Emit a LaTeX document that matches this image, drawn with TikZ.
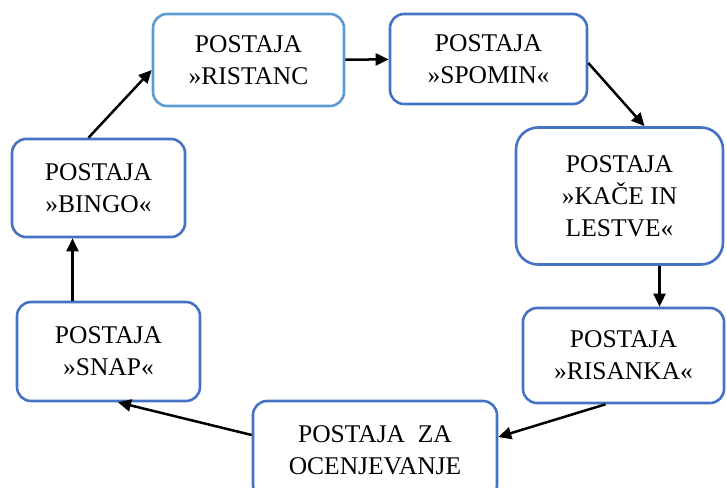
\documentclass[tikz,border=0pt]{standalone}
\usepackage{fontspec}
\setmainfont{Liberation Serif}
\usetikzlibrary{positioning,arrows.meta}

\definecolor{boxblue}{HTML}{4472C4}
\definecolor{boxlight}{HTML}{5B9BD5}

\begin{document}
\begin{tikzpicture}[
  x=0.5pt, y=-0.5pt,
  font=\fontsize{12.75}{16}\selectfont,
  station/.style={draw=boxblue, line width=1.3pt, rounded corners=7pt, fill=white,
    align=center, inner sep=0pt},
  stationlight/.style={station, draw=boxlight},
  flow/.style={-{Triangle[length=6.5pt, width=6pt]}, line width=1.25pt, black}
]
\clip (0,0) rectangle (727,487);
\useasboundingbox (0,0) rectangle (727,487);
% ---------- stations ----------
\node[stationlight, minimum width=95.5pt, minimum height=46pt] (ristanc) at (248.5,60) {POSTAJA\\»RISTANC};
\node[station, minimum width=98.5pt, minimum height=45pt] (spomin) at (488.5,59) {POSTAJA\\»SPOMIN«};
\node[station, minimum width=103.5pt, minimum height=68.5pt, rounded corners=11pt] (kace) at (619.5,196) {POSTAJA\\»KAČE IN\\LESTVE«};
\node[station, minimum width=100.5pt, minimum height=47.5pt] (risanka) at (623.5,355.5) {POSTAJA\\»RISANKA«};
\node[station, minimum width=122pt, minimum height=49pt] (ocena) at (375,450) {POSTAJA\ \ ZA\\OCENJEVANJE};
\node[station, minimum width=91.5pt, minimum height=49.5pt] (snap) at (108.5,351.5) {POSTAJA\\»SNAP«};
\node[station, minimum width=86.5pt, minimum height=49pt] (bingo) at (98.5,188) {POSTAJA\\»BINGO«};
% ---------- connectors ----------
\draw[flow] (ristanc) -- (spomin);
\draw[flow] ([yshift=-2pt]spomin.east) -- ([xshift=12.5pt]kace.north);
\draw[flow] ([xshift=20pt]kace.south) -- ([xshift=20pt]kace.south |- risanka.north);
\draw[flow] ([xshift=-9pt]risanka.south) -- ([yshift=6.5pt]ocena.east);
\draw[flow] ([yshift=7.5pt]ocena.west) -- ([xshift=4.75pt]snap.south);
\draw[flow] ([xshift=-18pt]snap.north) -- ([xshift=-18pt]snap.north |- bingo.south);
\draw[flow] ([xshift=-5pt]bingo.north) -- ([yshift=-5pt]ristanc.west);
\end{tikzpicture}
\end{document}
